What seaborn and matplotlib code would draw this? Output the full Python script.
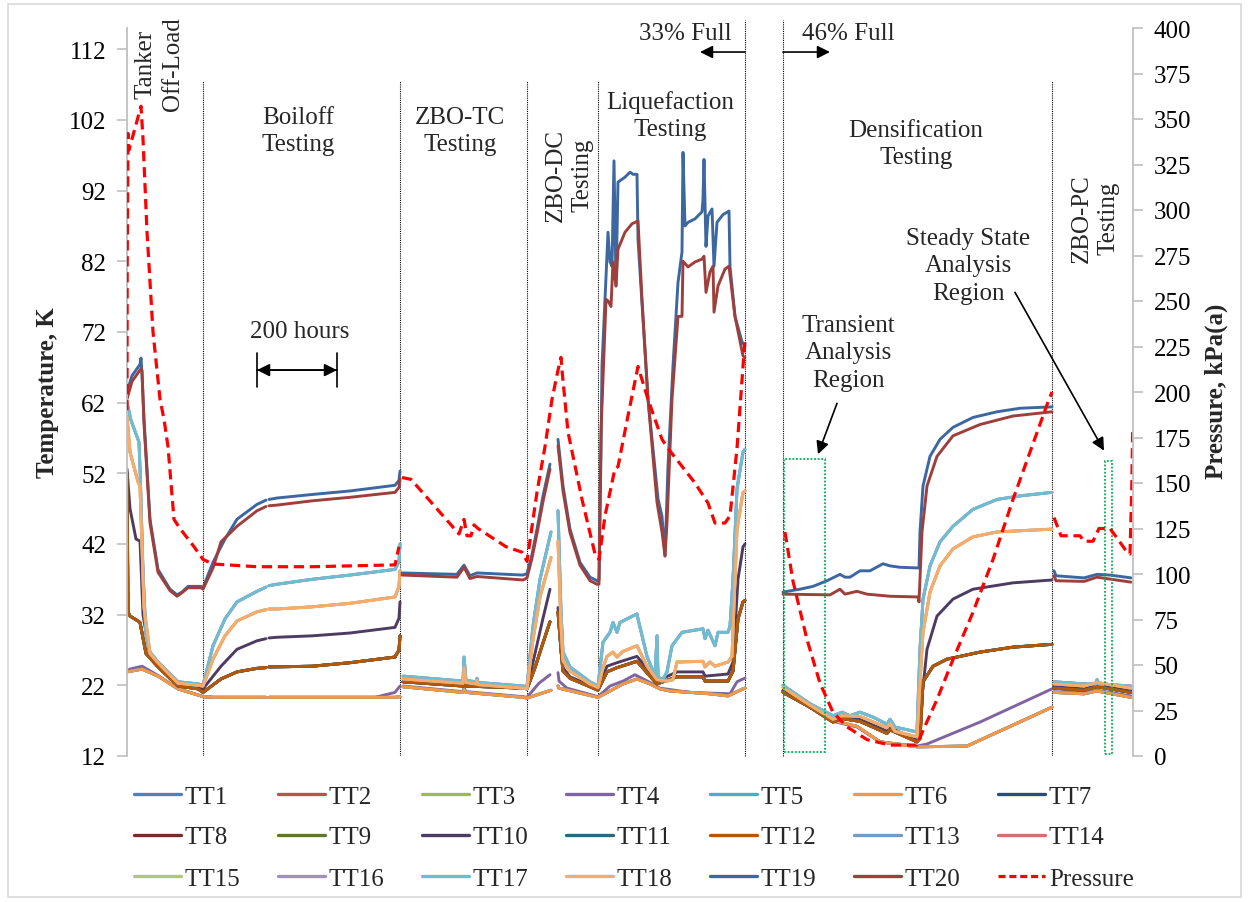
import numpy as np
import pandas as pd
import matplotlib
matplotlib.use("Agg")
import matplotlib.pyplot as plt
import seaborn as sns
from matplotlib.lines import Line2D
from matplotlib.patches import Rectangle

# ---------------- data (hours, value); None marks a data gap ----------------
TT19_PTS = [
    (0, 63.6), (12.5, 65.8), (32.5, 67.4), (35, 68.3), (37.5, 66.0), (42.5, 59.7), (57.5, 45.5), (77.5, 38.4),
    (107.5, 35.6), (125, 34.8), (137.5, 35.2), (152.5, 36.0), (185, 36.0), (190, 35.8),
    (215, 39.4), (245, 42.7), (275, 45.5), (325, 47.6), (347.5, 48.2), None,
    (355, 48.3), (375, 48.5), (462.5, 49.0), (557.5, 49.5), (670, 50.3), (680, 51.0), (682.5, 52.3), None,
    (687.5, 37.9), (825, 37.7), (842.5, 39.0), (857.5, 37.5), (875, 37.9), (990, 37.6), (1000, 37.8),
    (1012.5, 40.5), (1025, 44.1), (1040, 48.8), (1057.5, 53.3), None,
    (1077.5, 56.8), (1090, 50.2), (1107.5, 44.1), (1132.5, 39.4), (1157.5, 37.3), (1175, 36.8), (1180, 37.0),
    (1185, 55.0), (1187.5, 67.2), (1195, 76.6), (1202.5, 86.1), (1207.5, 81.9), (1212.5, 81.3), (1217.5, 96.2),
    (1222.5, 78.5), (1227.5, 93.2), (1245, 93.9), (1257.5, 94.6), (1265, 94.3), (1275, 94.3), (1277.5, 85.1),
    (1302.5, 62.5), (1327.5, 48.4), (1337.5, 45.9), (1345, 40.3), (1352.5, 53.0), (1365, 67.2), (1377.5, 79.0),
    (1387.5, 83.3), (1390, 97.4), (1395, 87.0), (1402.5, 87.5), (1420, 88.0), (1437.5, 89.0), (1440, 90.8),
    (1442.5, 96.4), (1447.5, 84.1), (1452.5, 88.4), (1462.5, 89.4), (1467.5, 81.3), (1475, 87.5), (1490, 88.6),
    (1505, 89.1), (1507.5, 81.3), (1520, 74.2), (1537.5, 70.6), (1545, 70.0), None,
    (1640, 35.2), (1682.5, 35.6), (1715, 36.0), (1750, 36.8), (1782.5, 37.7), (1795, 37.3), (1807.5, 37.3),
    (1832.5, 38.2), (1857.5, 38.2), (1890, 39.2), (1907.5, 38.9), (1932.5, 38.7), (1980, 38.6), (1982.5, 43.7),
    (1990, 50.2), (2007.5, 54.4), (2032.5, 56.8), (2065, 58.5), (2115, 59.9), (2175, 60.7), (2232.5, 61.2),
    (2312.5, 61.4), None,
    (2317.5, 38.2), (2322.5, 37.5), (2392.5, 37.2), (2425, 37.7), (2457.5, 37.6), (2510, 37.2),
]

TT20_PTS = [
    (0, 62.5), (12.5, 65.0), (32.5, 66.6), (35, 66.8), (37.5, 66.5), (42.5, 59.0), (57.5, 45.0), (77.5, 38.0),
    (107.5, 35.4), (125, 34.6), (137.5, 35.1), (152.5, 35.8), (185, 35.8), (190, 35.6),
    (215, 38.6), (235, 42.3), (275, 44.5), (325, 46.7), (347.5, 47.3), None,
    (355, 47.4), (375, 47.5), (462.5, 48.1), (557.5, 48.6), (670, 49.3), (680, 50.0), (682.5, 51.2), None,
    (687.5, 37.6), (825, 37.3), (842.5, 38.7), (857.5, 37.1), (875, 37.4), (990, 36.9), (1000, 37.2),
    (1012.5, 40.0), (1025, 43.5), (1040, 48.0), (1057.5, 52.6), None,
    (1077.5, 55.9), (1090, 49.5), (1107.5, 43.6), (1132.5, 39.0), (1157.5, 36.8), (1175, 36.3), (1180, 36.3),
    (1185, 57.8), (1197.5, 76.6), (1202.5, 76.4), (1210, 75.6), (1215, 81.9), (1222.5, 78.5), (1227.5, 83.7),
    (1245, 86.1), (1262.5, 87.3), (1277.5, 87.7), (1287.5, 76.6), (1302.5, 62.5), (1325, 47.9), (1337.5, 43.7),
    (1345, 40.3), (1350, 45.0), (1362.5, 62.5), (1377.5, 74.2), (1387.5, 74.2), (1390, 82.0), (1402.5, 81.2),
    (1420, 81.9), (1437.5, 82.3), (1442.5, 82.7), (1447.5, 77.6), (1457.5, 80.5), (1465, 81.3), (1467.5, 74.8),
    (1477.5, 78.5), (1495, 80.9), (1505, 81.3), (1520, 74.2), (1540, 68.6), (1545, 68.4), None,
    (1640, 34.9), (1757.5, 34.8), (1782.5, 35.6), (1795, 34.9), (1825, 35.3), (1850, 34.9), (1907.5, 34.6),
    (1977.5, 34.5), (1980, 33.8), (1987.5, 43.7), (2000, 50.2), (2025, 54.4), (2065, 57.3), (2132.5, 58.9),
    (2215, 60.1), (2312.5, 60.7), None,
    (2317.5, 37.5), (2322.5, 36.8), (2392.5, 36.7), (2425, 37.3), (2510, 36.6),
]

UPPER_PTS = [  # TT13, TT16, TT17
    (0, 62.0), (10, 59.5), (30, 56.4), (33, 52.0), (40, 38.0), (47.5, 29.0), (57.5, 26.7), (77.5, 25.3),
    (127.5, 22.5), (177.5, 22.2), (190, 22.0),
    (215, 27.6), (245, 31.4), (275, 33.8), (325, 35.3), (347.5, 35.9), None,
    (355, 36.1), (375, 36.3), (462.5, 37.0), (557.5, 37.6), (670, 38.4), (680, 39.5), (682.5, 42.0), None,
    (690, 23.3), (840, 22.6), (842.5, 26.0), (847.5, 22.7), (872.5, 22.5), (875, 23.0), (877.5, 22.4),
    (990, 21.9), (1000, 21.8),
    (1015, 30.4), (1032.5, 37.0), (1060, 43.7), None,
    (1077.5, 46.7), (1085, 32.4), (1090, 26.7), (1107.5, 24.6), (1157.5, 22.5), (1177.5, 21.9),
    (1190, 28.1), (1207.5, 29.5), (1215, 30.9), (1225, 29.5), (1232.5, 30.9), (1250, 31.4), (1275, 32.1),
    (1277.5, 31.4), (1300, 26.1), (1320, 23.3), (1325, 29.0), (1327.5, 23.3), (1337.5, 22.6), (1350, 23.9),
    (1362.5, 27.6), (1387.5, 29.5), (1440, 30.0), (1445, 28.6), (1452.5, 29.8), (1470, 27.6), (1477.5, 29.5),
    (1502.5, 29.5), (1507.5, 30.4), (1515, 37.0), (1525, 49.8), (1540, 55.0), (1545, 55.4), None,
    (1640, 22.0), (1707.5, 19.4), (1765, 17.7), (1787.5, 18.2), (1807.5, 17.7), (1832.5, 18.2), (1865, 17.5),
    (1900, 16.5), (1907.5, 17.2), (1920, 16.1), (1975, 15.4), (1982.5, 27.1), (1990, 34.2), (2007.5, 38.9),
    (2032.5, 42.3), (2065, 44.5), (2115, 46.9), (2175, 48.3), (2232.5, 48.8), (2312.5, 49.3), None,
    (2317.5, 22.5), (2392.5, 22.2), (2422.5, 22.2), (2425, 22.8), (2430, 22.2), (2510, 21.9),
]

MIDDLE_PTS = [  # TT14, TT15, TT18
    (0, 60.0), (7.5, 55.0), (27.5, 50.8), (32.5, 50.2), (42.5, 33.0), (57.5, 26.5), (77.5, 25.2),
    (127.5, 22.3), (177.5, 22.0), (190, 21.9),
    (215, 25.7), (245, 29.0), (275, 31.1), (325, 32.4), (347.5, 32.7), None,
    (355, 32.8), (375, 32.8), (462.5, 33.1), (557.5, 33.6), (670, 34.5), (680, 36.0), (682.5, 38.2), None,
    (690, 22.9), (840, 22.3), (842.5, 24.5), (847.5, 22.4), (872.5, 22.2), (875, 22.7), (877.5, 22.1),
    (990, 21.6), (1000, 21.5),
    (1015, 28.5), (1032.5, 34.5), (1060, 40.1), None,
    (1077.5, 42.4), (1085, 30.5), (1090, 25.5), (1107.5, 24.0), (1157.5, 22.2), (1177.5, 21.7),
    (1190, 24.5), (1200, 26.1), (1215, 26.7), (1225, 26.0), (1240, 26.8), (1275, 27.6), (1300, 24.7),
    (1325, 22.8), (1350, 22.6), (1365, 22.8), (1375, 25.3), (1440, 25.4), (1445, 24.6), (1457.5, 25.3),
    (1470, 24.7), (1502.5, 25.3), (1512.5, 26.1), (1525, 44.1), (1540, 49.3), (1545, 49.5), None,
    (1640, 21.7), (1707.5, 19.2), (1765, 17.2), (1787.5, 17.7), (1832.5, 17.6), (1900, 16.0), (1907.5, 16.6),
    (1920, 15.5), (1975, 14.7), (1982.5, 22.5), (1990, 29.5), (2007.5, 35.2), (2032.5, 38.9), (2065, 41.3),
    (2115, 43.0), (2175, 43.7), (2312.5, 44.1), None,
    (2317.5, 22.2), (2392.5, 21.9), (2425, 22.4), (2510, 21.6),
]

TT10_PTS = [
    (0, 52.6), (7.5, 47.0), (22.5, 42.7), (32.5, 42.4), (40, 32.0), (57.5, 26.0), (77.5, 25.0),
    (127.5, 22.0), (190, 21.5),
    (235, 24.7), (275, 27.1), (325, 28.3), (347.5, 28.6), None,
    (355, 28.7), (375, 28.8), (462.5, 29.0), (557.5, 29.4), (670, 30.2), (680, 31.5), (682.5, 33.8), None,
    (690, 22.5), (840, 22.0), (842.5, 23.2), (847.5, 22.0), (990, 21.6), (1000, 21.6),
    (1020, 26.5), (1040, 31.5), (1057.5, 35.6), None,
    (1077.5, 33.0), (1085, 28.0), (1090, 24.5), (1107.5, 23.2), (1157.5, 22.0), (1177.5, 21.5),
    (1200, 24.7), (1225, 25.2), (1275, 26.1), (1307.5, 23.9), (1325, 22.6), (1375, 23.9), (1440, 23.9),
    (1445, 23.3), (1502.5, 23.6), (1515, 25.3), (1527.5, 37.0), (1540, 41.6), (1545, 42.0), None,
    (1640, 21.3), (1707.5, 19.0), (1765, 17.0), (1787.5, 17.6), (1832.5, 17.2), (1900, 15.5), (1907.5, 16.0),
    (1975, 14.3), (1982.5, 17.7), (2000, 27.1), (2025, 31.8), (2065, 34.2), (2115, 35.6), (2215, 36.5),
    (2312.5, 36.9), None,
    (2317.5, 21.9), (2392.5, 21.6), (2425, 22.0), (2510, 21.3),
]

DARK_PTS = [  # TT7, TT8, TT9, TT11, TT12
    (0, 52.0), (2.5, 32.4), (7.5, 31.8), (27.5, 31.1), (32.5, 30.9), (47.5, 26.5), (77.5, 24.6),
    (127.5, 21.9), (177.5, 21.5), (190, 21.0),
    (235, 22.9), (275, 23.9), (325, 24.4), (347.5, 24.5), None,
    (355, 24.6), (462.5, 24.7), (557.5, 25.2), (670, 26.0), (680, 27.0), (682.5, 29.0), None,
    (690, 22.5), (840, 21.9), (842.5, 22.8), (847.5, 21.9), (990, 21.6), (1000, 21.5),
    (1020, 24.5), (1040, 28.0), (1057.5, 31.0), None,
    (1077.5, 32.4), (1085, 27.0), (1090, 24.0), (1107.5, 23.0), (1157.5, 21.8), (1177.5, 21.3),
    (1200, 23.9), (1225, 24.5), (1275, 25.4), (1307.5, 23.3), (1325, 22.2), (1375, 23.2), (1440, 23.2),
    (1445, 22.6), (1502.5, 22.6), (1515, 24.0), (1527.5, 31.4), (1540, 33.8), (1545, 34.0), None,
    (1640, 21.0), (1707.5, 18.9), (1765, 16.8), (1787.5, 17.3), (1832.5, 16.9), (1900, 15.2), (1907.5, 15.7),
    (1975, 14.0), (1982.5, 14.5), (1990, 22.5), (2015, 24.7), (2050, 25.7), (2132.5, 26.7), (2215, 27.4),
    (2312.5, 27.8), None,
    (2317.5, 21.6), (2392.5, 21.3), (2425, 21.8), (2510, 21.0),
]

LIQUID_PTS = [  # TT1, TT2, TT3, TT5, TT6
    (0, 23.9), (37.5, 24.3), (77.5, 23.3), (127.5, 21.5), (185, 20.5), (190, 20.4),
    (215, 20.3), (347.5, 20.3), None,
    (355, 20.3), (670, 20.3), (682.5, 20.4), None,
    (690, 21.8), (840, 21.0), (842.5, 21.4), (847.5, 21.0), (990, 20.3), (1000, 20.2),
    (1060, 21.3), None,
    (1077.5, 21.9), (1080, 21.6), (1177.5, 20.3),
    (1207.5, 21.2), (1240, 22.2), (1275, 22.9), (1307.5, 22.2), (1332.5, 21.5), (1357.5, 21.2),
    (1407.5, 21.0), (1457.5, 20.8), (1502.5, 20.5), (1540, 21.5), (1545, 21.6), None,
    (1640, 21.2), (1707.5, 18.9), (1765, 17.0), (1825, 16.2), (1882.5, 14.0), (1975, 13.3), (2100, 13.4),
    (2312.5, 18.9), None,
    (2317.5, 21.0), (2392.5, 20.8), (2425, 21.2), (2510, 20.3),
]

TT4_PTS = [
    (0, 23.9), (7.5, 24.3), (37.5, 24.7), (77.5, 23.4), (127.5, 21.5), (185, 20.5), (190, 20.4),
    (215, 20.3), (347.5, 20.3), None,
    (355, 20.3), (620, 20.3), (670, 21.0), (682.5, 21.9), None,
    (690, 21.9), (840, 21.1), (842.5, 21.6), (847.5, 21.1), (990, 20.4), (1000, 20.3),
    (1030, 22.3), (1057.5, 23.5), None,
    (1077.5, 23.8), (1080, 22.6), (1100, 21.6), (1177.5, 20.4),
    (1207.5, 21.9), (1240, 22.6), (1270, 23.5), (1307.5, 22.4), (1332.5, 21.6), (1407.5, 21.0),
    (1507.5, 20.8), (1525, 22.5), (1540, 22.9), (1545, 23.0), None,
    (1640, 21.1), (1707.5, 18.9), (1765, 16.9), (1825, 16.1), (1882.5, 14.0), (1975, 13.4), (2000, 13.7),
    (2132.5, 16.8), (2312.5, 21.5), None,
    (2317.5, 21.1), (2392.5, 20.9), (2425, 21.3), (2510, 20.5),
]

PRESSURE_PTS = [  # kPa(a)
    (0, 190), (0.5, 270), (2.5, 342), (5, 333), (35, 357), (40, 339), (50, 288), (65, 233), (82.5, 196),
    (92.5, 185), (102.5, 170), (117.5, 130), (132.5, 125), (167.5, 115), (190, 108),
    (215, 105.5), (325, 104), (462.5, 104), (670, 105), (680, 115), None,
    (687.5, 153), (710, 152), (770, 137), (830, 122), (842.5, 130), (850, 121), (860, 121), (867.5, 127),
    (877.5, 125), (947.5, 115), (987.5, 112), (1000, 107),
    (1025, 145), (1045, 170), (1062.5, 196), (1077.5, 212), (1085, 219), (1087.5, 212), (1102.5, 178),
    (1137.5, 141), (1170, 111), (1180, 108),
    (1195, 132), (1220, 158), (1227.5, 159), (1252.5, 187), (1277.5, 214), (1302.5, 196), (1337.5, 174),
    (1352.5, 169), (1420, 150), (1452.5, 139), (1470, 128), (1495, 128), (1507.5, 132), (1525, 169),
    (1540, 214), (1545, 228), None,
    (1645, 123), (1665, 96), (1700, 64), (1732.5, 40), (1765, 24), (1800, 16), (1850, 9), (1907.5, 6),
    (1975, 6), (1990, 14), (2025, 31), (2065, 53), (2115, 79), (2165, 108), (2215, 141), (2257.5, 167),
    (2300, 193), (2312.5, 200), None,
    (2317.5, 131), (2335, 121), (2382.5, 121), (2392.5, 118), (2415, 118), (2430, 125), (2457.5, 125),
    (2477.5, 119), (2500, 112), (2507.5, 111), (2512, 148), (2514, 178),
]

SENSORS = [f"TT{i}" for i in range(1, 21)]
SENSOR_PROFILE = {
    "TT1": LIQUID_PTS, "TT2": LIQUID_PTS, "TT3": LIQUID_PTS, "TT4": TT4_PTS, "TT5": LIQUID_PTS,
    "TT6": LIQUID_PTS, "TT7": DARK_PTS, "TT8": DARK_PTS, "TT9": DARK_PTS, "TT10": TT10_PTS,
    "TT11": DARK_PTS, "TT12": DARK_PTS, "TT13": UPPER_PTS, "TT14": MIDDLE_PTS, "TT15": MIDDLE_PTS,
    "TT16": UPPER_PTS, "TT17": UPPER_PTS, "TT18": MIDDLE_PTS, "TT19": TT19_PTS, "TT20": TT20_PTS,
}
COLORS = {
    "TT1": "#4F81BD", "TT2": "#C0504D", "TT3": "#9BBB59", "TT4": "#8064A2", "TT5": "#4BACC6",
    "TT6": "#F79646", "TT7": "#2C4D75", "TT8": "#772C2A", "TT9": "#5F7530", "TT10": "#4D3B62",
    "TT11": "#276A7C", "TT12": "#B65708", "TT13": "#729ACA", "TT14": "#CD7371", "TT15": "#AFC97A",
    "TT16": "#A18FBF", "TT17": "#6FBDD1", "TT18": "#F9AB6B", "TT19": "#3C67A0", "TT20": "#9E3F3C",
}
PRESSURE_COLOR = "#FF0000"

SECTION_BOUNDS_H = [190, 682.5, 1000, 1177.5, 2312.5]
FILL_BOUNDS_H = [1545, 1640]


def to_frame(points, name):
    rows, seg = [], 0
    for p in points:
        if p is None:
            seg += 1
            continue
        rows.append((name, f"{name}_{seg}", p[0], p[1]))
    return pd.DataFrame(rows, columns=["sensor", "unit", "hours", "value"])


temp_df = pd.concat([to_frame(SENSOR_PROFILE[s], s) for s in SENSORS], ignore_index=True)
pres_df = to_frame(PRESSURE_PTS, "Pressure")

# ---------------- figure ----------------
sns.set_style("white")
plt.rcParams["font.family"] = ["Liberation Serif", "DejaVu Serif"]
plt.rcParams["font.size"] = 18

W, H = 1249, 903
fig = plt.figure(figsize=(W / 100, H / 100), dpi=100)
fig.patch.set_facecolor("white")
ax = fig.add_axes([127 / W, 1 - 757 / H, (1133 - 127) / W, (757 - 29) / H])

sns.lineplot(data=temp_df, x="hours", y="value", hue="sensor", hue_order=SENSORS, palette=COLORS,
             units="unit", estimator=None, sort=False, lw=2.1, legend=False, ax=ax)

ax2 = ax.twinx()
sns.lineplot(data=pres_df, x="hours", y="value", units="unit", estimator=None, sort=False,
             color=PRESSURE_COLOR, lw=2.3, legend=False, ax=ax2)
for ln in ax2.lines:
    ln.set_linestyle((0, (3.2, 1.8)))

ax.set_xlim(0, 2515)
ax.set_ylim(12, 115)
ax.set_yticks(range(12, 113, 10))
ax2.set_ylim(0, 400)
ax2.set_yticks(range(0, 401, 25))

for a in (ax, ax2):
    a.spines["top"].set_visible(False)
    a.spines["bottom"].set_visible(False)
    a.set_xlabel("")
    a.set_ylabel("")
    a.tick_params(axis="x", bottom=False, labelbottom=False, top=False)
    a.tick_params(axis="y", direction="out", length=7, width=1.2, color="#BFBFBF", pad=8,
                  labelsize=18, labelcolor="black")
ax.spines["right"].set_visible(False)
ax2.spines["left"].set_visible(False)
ax.spines["left"].set_color("#BFBFBF")
ax.spines["left"].set_linewidth(1.3)
ax2.spines["right"].set_color("#BFBFBF")
ax2.spines["right"].set_linewidth(1.3)
ax.grid(False)
ax2.grid(False)

# axis titles
fig.text(48 / W, 1 - 393 / H, "Temperature, K", rotation=90, ha="center", va="center",
         fontsize=18, fontweight="bold")
fig.text(1216 / W, 1 - 391 / H, "Pressure, kPa(a)", rotation=90, ha="center", va="center",
         fontsize=18, fontweight="bold")

# section dividers
for xb in SECTION_BOUNDS_H:
    ax.axvline(xb, ymin=0, ymax=(107.5 - 12) / 103, color="black", lw=0.8, ls=(0, (1, 1)), zorder=1)
for xb in FILL_BOUNDS_H:
    ax.axvline(xb, ymin=0, ymax=(116.2 - 12) / 103, color="black", lw=0.8, ls=(0, (1, 1)),
               zorder=1, clip_on=False)

# analysis region boxes
ax.add_patch(Rectangle((1642.5, 12.6), 102.5, 41.4, fill=False, edgecolor="#00B050", lw=1.3,
                       ls=(0, (1, 1)), zorder=5))
ax.add_patch(Rectangle((2445, 12.3), 17.5, 41.4, fill=False, edgecolor="#00B050", lw=1.3,
                       ls=(0, (1, 1)), zorder=5))

# annotations
txt = dict(ha="center", va="center", fontsize=18, linespacing=1.3, multialignment="center", zorder=6)
ax.text(80, 110.0, "Tanker\nOff-Load", rotation=90, **txt)
ax.text(427.5, 100.5, "Boiloff\nTesting", **txt)
ax.text(832.5, 100.5, "ZBO-TC\nTesting", **txt)
ax.text(1105, 94.3, "ZBO-DC\nTesting", rotation=90, **txt)
ax.text(1357.5, 102.7, "Liquefaction\nTesting", **txt)
ax.text(1395, 114.3, "33% Full", **txt)
ax.text(1802.5, 114.3, "46% Full", **txt)
ax.text(1972.5, 98.6, "Densification\nTesting", **txt)
ax.text(2102.5, 81.4, "Steady State\nAnalysis\nRegion", **txt)
ax.text(1802.5, 69.1, "Transient\nAnalysis\nRegion", **txt)
ax.text(2420, 88.2, "ZBO-PC\nTesting", rotation=90, **txt)
ax.text(432.5, 72.1, "200 hours", **txt)

arr = dict(arrowstyle="-|>", color="black", lw=1.2, mutation_scale=19, shrinkA=0, shrinkB=0)
ax.annotate("", xy=(1432.5, 111.6), xytext=(1545, 111.6), arrowprops=arr, annotation_clip=False)
ax.annotate("", xy=(1757.5, 111.6), xytext=(1640, 111.6), arrowprops=arr, annotation_clip=False)
ax.annotate("", xy=(1727.5, 54.7), xytext=(1775, 61.9), arrowprops=arr)
ax.annotate("", xy=(2442.5, 55.2), xytext=(2220, 77.6), arrowprops=arr)
ax.annotate("", xy=(525, 66.6), xytext=(325, 66.6),
            arrowprops=dict(arrowstyle="<|-|>", color="black", lw=1.2, mutation_scale=19,
                            shrinkA=0, shrinkB=0))
ax.annotate("", xy=(525, 66.6), xytext=(325, 66.6),
            arrowprops=dict(arrowstyle="|-|,widthA=0.6,widthB=0.6", color="black", lw=1.2,
                            mutation_scale=20, shrinkA=0, shrinkB=0))

# legend (row-major order like the original)
labels = SENSORS + ["Pressure"]
handles = [Line2D([], [], color=COLORS[s], lw=2.4) for s in SENSORS]
handles.append(Line2D([], [], color=PRESSURE_COLOR, lw=2.3, ls=(0, (2.2, 1.2))))
order = [r * 7 + c for c in range(7) for r in range(3)]
fig.legend([handles[i] for i in order], [labels[i] for i in order], loc="upper left",
           bbox_to_anchor=(134 / W, 1 - 786 / H), ncol=7, frameon=False, fontsize=18,
           handlelength=1.88, handletextpad=0.15, columnspacing=1.5, labelspacing=0.74,
           borderpad=0, borderaxespad=0)

# outer chart border
fig.add_artist(Rectangle((8 / W, 1 - 898 / H), 1233 / W, 893 / H, transform=fig.transFigure,
                         fill=False, edgecolor="#D9D9D9", lw=1.2))

fig.savefig("out.png", dpi=100, facecolor="white")
